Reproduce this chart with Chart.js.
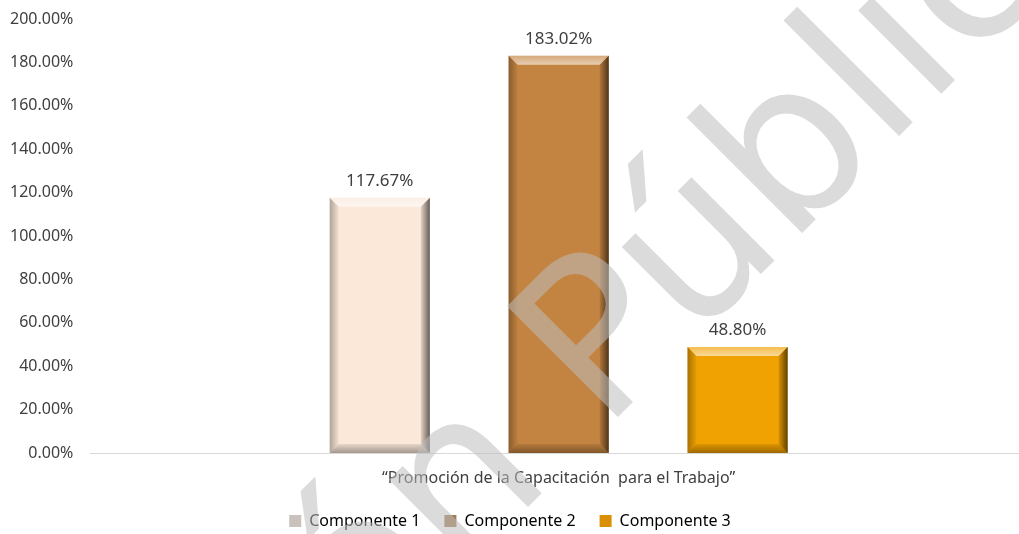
<!DOCTYPE html>
<html>
<head>
<meta charset="utf-8">
<script src="https://cdn.jsdelivr.net/npm/chart.js@4.4.1/dist/chart.umd.min.js"></script>
<style>
    html, body { margin: 0; padding: 0; background: #fff; overflow: hidden; }
    #wrap { position: absolute; left: 0; top: 0; width: 1027px; height: 534px; }
</style>
</head>
<body>
<div id="wrap"><canvas id="chart_componentes"></canvas></div>
<script>
const categories = ['\u201CPromoción de la Capacitación  para el Trabajo\u201D'];
const seriesNames = ['Componente 1', 'Componente 2', 'Componente 3'];
const componente1 = [117.67];
const componente2 = [183.02];
const componente3 = [48.80];
const yMin = 0;
const yMax = 200;
const yStep = 20;
const watermark = 'Versión Pública';

const barColors = ['#fbe8d9', '#c48441', '#f0a202'];
const legendColors = ['#c9c2bc', '#a27a55', '#d98f06'];

// bevel look of the original bars
const bevelPlugin = {
    id: 'bevel',
    afterDatasetsDraw(chart) {
        const ctx = chart.ctx;
        chart.data.datasets.forEach((ds, i) => {
            const meta = chart.getDatasetMeta(i);
            meta.data.forEach(bar => {
                const l = bar.x - bar.width / 2, r = bar.x + bar.width / 2;
                const t = bar.y, b = bar.base, s = 9;
                const poly = (pts, fill) => {
                    ctx.beginPath();
                    ctx.moveTo(pts[0][0], pts[0][1]);
                    pts.slice(1).forEach(p => ctx.lineTo(p[0], p[1]));
                    ctx.closePath();
                    ctx.fillStyle = fill;
                    ctx.fill();
                };
                ctx.save();
                let g = ctx.createLinearGradient(0, t, 0, t + s);
                g.addColorStop(0, 'rgba(255,255,255,0.3)');
                g.addColorStop(1, 'rgba(255,255,255,0.6)');
                poly([[l, t], [r, t], [r - s, t + s], [l + s, t + s]], g);
                g = ctx.createLinearGradient(l, 0, l + s, 0);
                g.addColorStop(0, 'rgba(0,0,0,0.3)');
                g.addColorStop(1, 'rgba(0,0,0,0.03)');
                poly([[l, t], [l + s, t + s], [l + s, b - s], [l, b]], g);
                g = ctx.createLinearGradient(r - s, 0, r, 0);
                g.addColorStop(0, 'rgba(0,0,0,0.1)');
                g.addColorStop(1, 'rgba(0,0,0,0.6)');
                poly([[r, t], [r, b], [r - s, b - s], [r - s, t + s]], g);
                g = ctx.createLinearGradient(0, b - s, 0, b);
                g.addColorStop(0, 'rgba(0,0,0,0.08)');
                g.addColorStop(1, 'rgba(0,0,0,0.35)');
                poly([[l, b], [l + s, b - s], [r - s, b - s], [r, b]], g);
                ctx.restore();
            });
        });
    }
};

const valueLabels = {
    id: 'valueLabels',
    afterDatasetsDraw(chart) {
        const ctx = chart.ctx;
        ctx.save();
        ctx.font = '17px "Noto Sans"';
        ctx.fillStyle = '#404040';
        ctx.textAlign = 'center';
        ctx.textBaseline = 'bottom';
        chart.data.datasets.forEach((ds, i) => {
            chart.getDatasetMeta(i).data.forEach((bar, j) => {
                ctx.fillText(ds.data[j].toFixed(2) + '%', bar.x, bar.y - 8);
            });
        });
        ctx.restore();
    }
};

const watermarkPlugin = {
    id: 'watermark',
    afterDraw(chart) {
        const ctx = chart.ctx;
        ctx.save();
        ctx.font = '215px "DejaVu Sans"';
        const pre = ctx.measureText('Versión ').width;
        ctx.translate(603, 432);
        ctx.rotate(-Math.PI / 4);
        ctx.fillStyle = 'rgba(190,190,190,0.55)';
        ctx.textBaseline = 'alphabetic';
        ctx.fillText(watermark, -pre, 0);
        ctx.restore();
    }
};

new Chart(document.getElementById('chart_componentes'), {
    type: 'bar',
    data: {
        labels: categories,
        datasets: [
            { label: seriesNames[0], data: componente1, backgroundColor: barColors[0] },
            { label: seriesNames[1], data: componente2, backgroundColor: barColors[1] },
            { label: seriesNames[2], data: componente3, backgroundColor: barColors[2] }
        ]
    },
    plugins: [bevelPlugin, valueLabels, watermarkPlugin],
    options: {
        responsive: true,
        maintainAspectRatio: false,
        animation: false,
        categoryPercentage: 0.573,
        barPercentage: 0.56,
        layout: { padding: { top: 19, right: 0, left: -7, bottom: -5 } },
        plugins: {
            tooltip: { enabled: false },
            legend: {
                position: 'bottom',
                labels: {
                    color: '#404040',
                    font: { family: 'Noto Sans', size: 16 },
                    boxWidth: 12,
                    boxHeight: 12,
                    padding: 24,
                    generateLabels: chart => chart.data.datasets.map((ds, i) => ({
                        text: ds.label,
                        fillStyle: legendColors[i],
                        strokeStyle: legendColors[i],
                        lineWidth: 0,
                        datasetIndex: i
                    }))
                }
            }
        },
        scales: {
            x: {
                grid: { display: false },
                border: { color: '#d9d9d9', width: 1 },
                ticks: { color: '#404040', font: { family: 'Noto Sans', size: 16 }, padding: 8 },
                afterFit: scale => { scale.height = 36; }
            },
            y: {
                min: yMin,
                max: yMax,
                grid: { display: false, drawTicks: false },
                border: { display: false },
                ticks: {
                    stepSize: yStep,
                    color: '#404040',
                    font: { family: 'Noto Sans', size: 16 },
                    padding: 17,
                    callback: v => v.toFixed(2) + '%'
                },
                afterFit: scale => { scale.paddingTop = 0; scale.paddingBottom = 0; }
            }
        }
    }
});
</script>
</body>
</html>
